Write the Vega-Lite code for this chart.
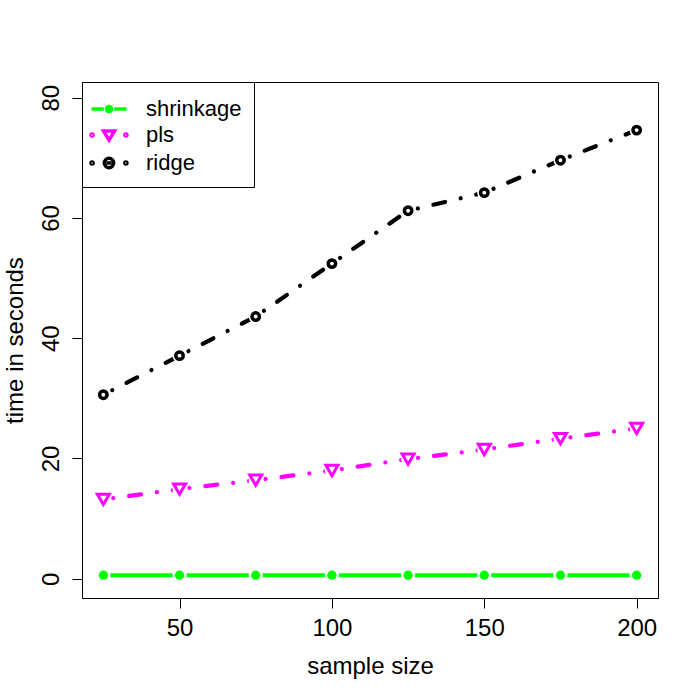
{
  "$schema": "https://vega.github.io/schema/vega-lite/v6.json",
  "width": 576,
  "height": 516,
  "autosize": "none",
  "padding": {"left": 82, "top": 82, "right": 42, "bottom": 102},
  "background": "white",
  "config": {
    "view": {"stroke": "black", "strokeWidth": 1},
    "font": "Liberation Sans",
    "axis": {
      "grid": false,
      "domain": false,
      "tickColor": "black",
      "tickSize": 10,
      "tickWidth": 1,
      "labelFont": "Liberation Sans",
      "labelFontSize": 24,
      "labelColor": "black",
      "titleFont": "Liberation Sans",
      "titleFontSize": 24,
      "titleFontWeight": "normal",
      "titleColor": "black"
    }
  },
  "data": {
    "values": [
      {"size": 25, "series": "shrinkage", "time": 0.6},
      {"size": 50, "series": "shrinkage", "time": 0.6},
      {"size": 75, "series": "shrinkage", "time": 0.6},
      {"size": 100, "series": "shrinkage", "time": 0.6},
      {"size": 125, "series": "shrinkage", "time": 0.6},
      {"size": 150, "series": "shrinkage", "time": 0.6},
      {"size": 175, "series": "shrinkage", "time": 0.6},
      {"size": 200, "series": "shrinkage", "time": 0.6},
      {"size": 25, "series": "pls", "time": 13.2},
      {"size": 50, "series": "pls", "time": 14.9},
      {"size": 75, "series": "pls", "time": 16.4},
      {"size": 100, "series": "pls", "time": 18.0},
      {"size": 125, "series": "pls", "time": 19.9},
      {"size": 150, "series": "pls", "time": 21.5},
      {"size": 175, "series": "pls", "time": 23.3},
      {"size": 200, "series": "pls", "time": 25.0},
      {"size": 25, "series": "ridge", "time": 30.6},
      {"size": 50, "series": "ridge", "time": 37.1},
      {"size": 75, "series": "ridge", "time": 43.6},
      {"size": 100, "series": "ridge", "time": 52.4},
      {"size": 125, "series": "ridge", "time": 61.2},
      {"size": 150, "series": "ridge", "time": 64.2},
      {"size": 175, "series": "ridge", "time": 69.6},
      {"size": 200, "series": "ridge", "time": 74.6}
    ]
  },
  "transform": [
    {
      "window": [
        {"op": "lead", "field": "size", "as": "size2"},
        {"op": "lead", "field": "time", "as": "time2"}
      ],
      "groupby": ["series"],
      "sort": [{"field": "size", "order": "ascending"}]
    }
  ],
  "encoding": {
    "x": {
      "field": "size",
      "type": "quantitative",
      "scale": {"domain": [18, 207], "nice": false, "zero": false},
      "axis": {"values": [50, 100, 150, 200], "title": "sample size", "labelPadding": 8, "titlePadding": 14}
    },
    "y": {
      "field": "time",
      "type": "quantitative",
      "scale": {"domain": [-3.2, 82.6], "nice": false, "zero": false},
      "axis": {
        "values": [0, 20, 40, 60, 80],
        "title": "time in seconds",
        "labelAngle": -90,
        "labelAlign": "center",
        "labelBaseline": "alphabetic",
        "labelPadding": 14,
        "titlePadding": 12
      }
    }
  },
  "layer": [
    {
      "transform": [{"filter": "datum.series === 'shrinkage' && isValid(datum.size2)"}],
      "mark": {"type": "rule", "color": "#00ff00", "strokeWidth": 4, "strokeCap": "round"},
      "encoding": {"x2": {"field": "size2"}, "y2": {"field": "time2"}}
    },
    {
      "transform": [{"filter": "datum.series !== 'shrinkage' && isValid(datum.size2)"}],
      "mark": {"type": "rule", "strokeWidth": 4.2, "strokeCap": "round", "strokeDash": [0.01, 16, 12, 16], "strokeDashOffset": -10},
      "encoding": {
        "x2": {"field": "size2"},
        "y2": {"field": "time2"},
        "color": {"field": "series", "type": "nominal", "scale": {"domain": ["pls", "ridge"], "range": ["#ff00ff", "#000000"]}, "legend": null}
      }
    },
    {
      "mark": {"type": "circle", "color": "white", "size": 200, "opacity": 1}
    },
    {
      "transform": [{"filter": "datum.series === 'shrinkage'"}],
      "mark": {"type": "circle", "color": "#00ff00", "size": 85, "opacity": 1}
    },
    {
      "transform": [{"filter": "datum.series === 'pls'"}],
      "mark": {"type": "point", "shape": "triangle-down", "size": 144, "stroke": "#ff00ff", "strokeWidth": 3, "filled": false, "opacity": 1}
    },
    {
      "transform": [{"filter": "datum.series === 'ridge'"}],
      "mark": {"type": "point", "shape": "circle", "size": 55, "stroke": "#000000", "strokeWidth": 3.5, "filled": false, "opacity": 1}
    },
    {
      "transform": [{"filter": "false"}],
      "mark": {"type": "point", "filled": true, "strokeWidth": 3.5, "opacity": 1},
      "encoding": {
        "shape": {
          "field": "series",
          "type": "nominal",
          "scale": {
            "domain": ["shrinkage", "pls", "ridge"],
            "range": [
              "M-1.35,0L-0.4,0M0.4,0L1.35,0M0.2,0A0.2,0.2,0,1,1,-0.2,0A0.2,0.2,0,1,1,0.2,0Z",
              "M-1.38,0A0.08,0.08,0,1,1,-1.22,0A0.08,0.08,0,1,1,-1.38,0ZM1.22,0A0.08,0.08,0,1,1,1.38,0A0.08,0.08,0,1,1,1.22,0ZM-0.42,-0.3L0.42,-0.3L0,0.4Z",
              "M-1.38,0A0.08,0.08,0,1,1,-1.22,0A0.08,0.08,0,1,1,-1.38,0ZM1.22,0A0.08,0.08,0,1,1,1.38,0A0.08,0.08,0,1,1,1.22,0ZM-0.2,0H0.2M0.36,0A0.36,0.36,0,1,1,-0.36,0A0.36,0.36,0,1,1,0.36,0Z"
            ]
          },
          "legend": {
            "title": null,
            "orient": "top-left",
            "offset": 0,
            "padding": 12,
            "symbolSize": 676,
            "symbolOffset": 0,
            "symbolStrokeWidth": 3.5,
            "symbolOpacity": 1,
            "labelOffset": 22,
            "rowPadding": 0,
            "labelFont": "Liberation Sans",
            "labelFontSize": 22,
            "labelColor": "black",
            "labelLimit": 300,
            "strokeColor": "black",
            "fillColor": "white"
          }
        },
        "fill": {
          "field": "series",
          "type": "nominal",
          "scale": {"domain": ["shrinkage", "pls", "ridge"], "range": ["#00ff00", "transparent", "transparent"]},
          "legend": {"title": null}
        },
        "stroke": {
          "field": "series",
          "type": "nominal",
          "scale": {"domain": ["shrinkage", "pls", "ridge"], "range": ["#00ff00", "#ff00ff", "#000000"]},
          "legend": {"title": null}
        }
      }
    }
  ]
}
